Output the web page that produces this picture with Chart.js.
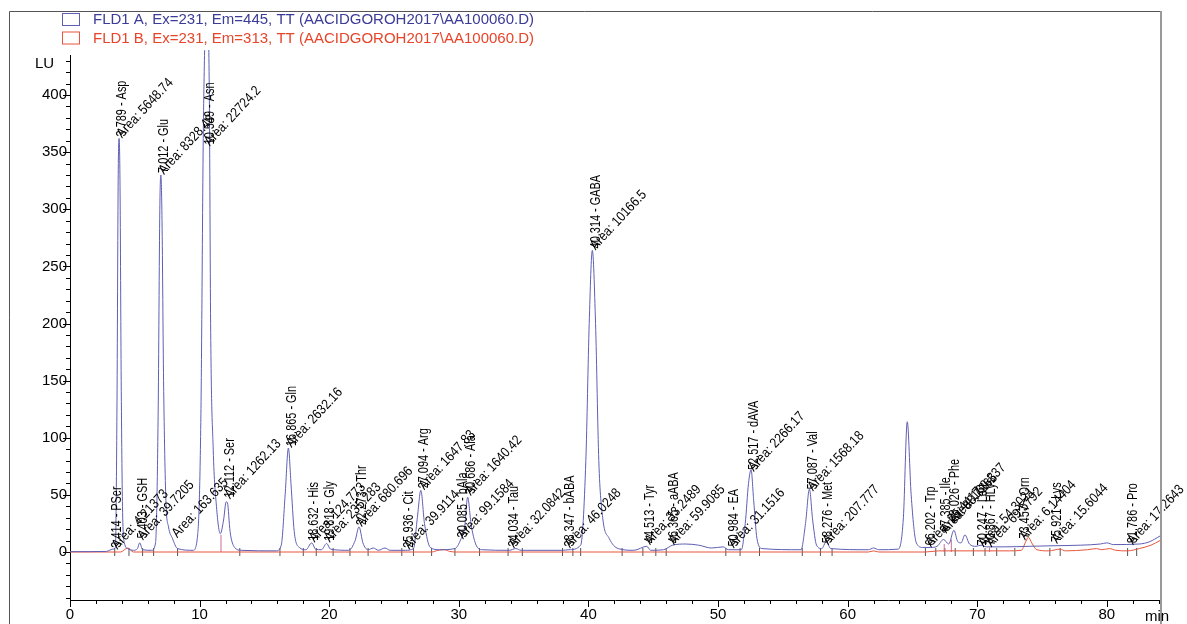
<!DOCTYPE html>
<html>
<head>
<meta charset="utf-8">
<title>FLD1 chromatogram</title>
<script src="https://cdn.jsdelivr.net/npm/chart.js@4.4.1/dist/chart.umd.min.js"></script>
<style>
  html, body { margin: 0; padding: 0; background: #fff; }
  #wrap { position: relative; width: 1187px; height: 624px; }
</style>
</head>
<body>
<div id="wrap"><canvas id="chromChart" width="1187" height="624"></canvas></div>
<script>
// legend texts
const seriesNames = [
  'FLD1 A, Ex=231, Em=445, TT (AACIDGOROH2017\\AA100060.D)',
  'FLD1 B, Ex=231, Em=313, TT (AACIDGOROH2017\\AA100060.D)'
];

// axis ticks
const xTickValues = [0, 10, 20, 30, 40, 50, 60, 70, 80];
const yTickValues = [0, 50, 100, 150, 200, 250, 300, 350, 400];

// signal A (min, LU)
const traceA = [
  [0, 0.3], [2.8, 0.5], [3.3, 2.5], [3.5, 4], [3.62, 120], [3.72, 330], [3.79, 362], [3.86, 320],
  [3.95, 150], [4.05, 40], [4.2, 8], [4.45, 3], [4.9, 1.5], [5.2, 3], [5.38, 8], [5.6, 2],
  [6.3, 1.5], [6.6, 8], [6.8, 120], [6.93, 300], [7.01, 330], [7.1, 290], [7.22, 150], [7.4, 45],
  [7.6, 22], [7.9, 12], [8.3, 3], [9.5, 1.5], [9.85, 15], [10.1, 120], [10.3, 380], [10.55, 480],
  [10.75, 400], [10.85, 200], [11.05, 90], [11.3, 40], [11.6, 16], [11.85, 28], [12.05, 44], [12.15, 43],
  [12.35, 18], [12.7, 4], [13.2, 1.5], [15.9, 1], [16.3, 6], [16.6, 50], [16.85, 91], [17.05, 60],
  [17.3, 18], [17.7, 4], [18.2, 2], [18.65, 8], [18.95, 2.5], [19.4, 2], [19.8, 7.5], [20.1, 2.5],
  [21.5, 1.5], [22.0, 10], [22.3, 22], [22.6, 8], [23.0, 2], [23.4, 3.5], [23.8, 1.5], [24.3, 3.5],
  [24.7, 1.5], [25.9, 1.5], [26.5, 3], [26.8, 30], [27.07, 54], [27.35, 25], [27.8, 4], [28.5, 2],
  [29.7, 3], [30.15, 11], [30.45, 22], [30.68, 48], [30.95, 24], [31.3, 7], [31.8, 2], [33.9, 1.5],
  [34.4, 3], [34.8, 1.5], [38.0, 1.5], [38.5, 2], [39.4, 6], [39.8, 80], [40.06, 200], [40.3, 264],
  [40.55, 200], [40.8, 80], [41.1, 30], [41.6, 12], [42.3, 3], [43.5, 1.5], [44.5, 5], [44.8, 1.5],
  [45.8, 2], [46.5, 6], [47.5, 7], [48.5, 6], [49.5, 3.5], [50.4, 4.5], [50.8, 2], [51.8, 2],
  [52.1, 25], [52.35, 60], [52.55, 72], [52.75, 45], [53.0, 12], [53.4, 3], [56.4, 2], [56.75, 25],
  [57.05, 55], [57.3, 28], [57.6, 6], [58.0, 3], [58.35, 9], [58.7, 3], [61.6, 2], [62.0, 3.5],
  [62.4, 2], [63.9, 2.5], [64.3, 30], [64.6, 114], [64.9, 50], [65.3, 8], [65.8, 4], [66.4, 4],
  [66.9, 5], [67.4, 11], [67.8, 7], [68.2, 19], [68.5, 9], [68.75, 8], [69.05, 15], [69.4, 7],
  [69.9, 5], [70.3, 6], [70.7, 4.5], [72, 4.5], [74, 5], [76, 5.5], [78, 6], [79.5, 7],
  [80.0, 8], [80.5, 6.5], [82.5, 7], [83.3, 9], [84.1, 14]
];

// signal B (min, LU)
const traceB = [
  [0, 0], [3.9, 0], [4.45, 3.5], [4.9, 0], [27.9, 0], [28.4, 1.5], [28.9, 2], [29.3, 0.5],
  [29.8, 0], [61.6, 0], [62.0, 1], [62.4, 0], [66.0, 0], [67.0, 1], [72.5, 1], [73.4, 1.5],
  [73.7, 8], [73.95, 13], [74.2, 8], [74.6, 2], [75.5, 1], [76.4, 2.5], [76.8, 1], [78.5, 2],
  [79.2, 3], [79.6, 2], [80.2, 3], [80.7, 1.5], [81.6, 1], [82.5, 3], [83.4, 6], [84.1, 10]
];

// integrated peaks: retention time, name, area, level of the label (LU)
const labelTimes = [3.414, 3.789, 5.403, 7.012, 8.05, 10.549, 12.112, 16.865, 18.632, 19.818, 22.273,
  25.936, 27.094, 30.085, 30.686, 34.034, 38.347, 40.314, 44.513, 46.365, 50.984, 52.517, 57.087,
  58.276, 66.202, 67.385, 68.026, 70.247, 70.867, 73.457, 75.921, 81.786];
const labelNames = ['PSer', 'Asp', 'GSH', 'Glu', '', 'Asn', 'Ser', 'Gln', 'His', 'Gly', 'Thr',
  'Cit', 'Arg', 'bAla', 'Ala', 'Tau', 'bABA', 'GABA', 'Tyr', 'aABA', 'EA', 'dAVA', 'Val',
  'Met', 'Trp', 'Ile', 'Phe', 'Leu', 'HLys', 'Orn', 'Lys', 'Pro'];
const labelAreas = ['4.21373', '5648.74', '39.7205', '8328.48', '163.635', '22724.2', '1262.13', '2632.16',
  '124.773', '235.283', '680.696', '39.9114', '1647.83', '99.1584', '1640.42', '32.0842', '46.0248',
  '10166.5', '33.2489', '59.9085', '31.1516', '2266.17', '1568.18', '207.777', '25.4417', '88.7265',
  '160.337', '54.3021', '69.5792', '6.14404', '15.6044', '17.2643'];
const labelLevels = [2, 362, 10, 330, 12, 355, 46, 91, 8, 8, 22, 2, 54, 11, 49, 3, 3, 264, 6, 6, 3,
  70, 53, 6, 4, 16, 25, 4, 4, 10, 7, 6];

// baseline start/end marks (min)
const baselineMarks = [3.45, 4.55, 5.6, 6.45, 8.3, 13.1, 16.2, 18.0, 19.0, 20.3, 21.6, 23.0, 25.6, 26.5,
  27.9, 29.7, 31.6, 33.8, 34.9, 38.0, 38.8, 39.4, 42.6, 44.2, 45.2, 46.0, 50.6, 51.7, 53.2, 56.5, 57.9,
  58.8, 66.0, 66.8, 67.5, 68.3, 69.7, 70.6, 71.5, 72.9, 75.6, 76.4, 81.6, 82.3];

// drop lines between unresolved peaks
const dropTimes = [11.65, 67.45, 68.0, 70.95];
const dropTops = [15, 7, 11, 4];

const blueColor = '#5e5eb4';
const redColor = '#e8553c';
const tickFont = { family: 'Arial, "Liberation Sans", sans-serif', size: 15 };

//build drop line points, null splits segments
const dropData = [];
dropTimes.forEach((t, i) => {
  dropData.push({ x: t, y: 0 }, { x: t, y: dropTops[i] }, { x: t, y: null });
});

//frame, tick marks, legend, axis titles
const decorations = {
  id: 'decorations',
  afterDraw(chart) {
    const { ctx, chartArea, scales: { x, y } } = chart;
    ctx.save();
    // outer frame
    ctx.strokeStyle = '#555';
    ctx.lineWidth = 1;
    ctx.beginPath();
    ctx.moveTo(9.5, 624);
    ctx.lineTo(9.5, 11.5);
    ctx.lineTo(chartArea.right, 11.5);
    ctx.stroke();
    ctx.strokeStyle = '#999';
    ctx.lineWidth = 2;
    ctx.beginPath();
    ctx.moveTo(chartArea.right + 1, 11);
    ctx.lineTo(chartArea.right + 1, 624);
    ctx.stroke();

    // tick marks
    ctx.strokeStyle = '#000';
    ctx.lineWidth = 1;
    ctx.beginPath();
    for (let v = -40; v <= 430; v += 10) {
      const py = Math.round(y.getPixelForValue(v)) + 0.5;
      const len = v % 50 === 0 ? 7 : 4;
      ctx.moveTo(chartArea.left, py);
      ctx.lineTo(chartArea.left - len, py);
    }
    for (let v = 0; v <= 84; v += 2) {
      const px = Math.round(x.getPixelForValue(v)) + 0.5;
      const len = v % 10 === 0 ? 7 : 4;
      ctx.moveTo(px, chartArea.bottom);
      ctx.lineTo(px, chartArea.bottom + len);
    }
    ctx.stroke();

    // axis titles
    ctx.fillStyle = '#000';
    ctx.font = '15px Arial, "Liberation Sans", sans-serif';
    ctx.textAlign = 'left';
    ctx.textBaseline = 'alphabetic';
    ctx.fillText('LU', 35, 68);
    ctx.fillText('min', 1145, 621);

    // legend
    const colors = [blueColor, redColor];
    const textColors = ['#3b3b98', '#e8442a'];
    seriesNames.forEach((name, i) => {
      const top = 13 + i * 18.5;
      ctx.strokeStyle = colors[i];
      ctx.strokeRect(62.5, top + 0.5, 17, 12);
      ctx.fillStyle = textColors[i];
      ctx.fillText(name, 93, top + 11);
    });
    ctx.restore();
  }
};

//peak labels: vertical retention time, slanted area (condensed text like the original)
const peakLabels = {
  id: 'peakLabels',
  afterDatasetsDraw(chart) {
    const { ctx, scales: { x, y } } = chart;
    ctx.save();
    ctx.fillStyle = '#000';
    ctx.font = '14px Arial, "Liberation Sans", sans-serif';
    ctx.textAlign = 'left';
    ctx.textBaseline = 'alphabetic';
    labelTimes.forEach((t, i) => {
      const px = x.getPixelForValue(t);
      const py = y.getPixelForValue(labelLevels[i]);
      if (labelNames[i]) {
        ctx.save();
        ctx.translate(px + 7, py - 2);
        ctx.rotate(-Math.PI / 2);
        ctx.scale(0.78, 1);
        ctx.fillText(t.toFixed(3) + ' - ' + labelNames[i], 0, 0);
        ctx.restore();
      }
      ctx.save();
      ctx.translate(px + 3, py);
      ctx.rotate(-47 * Math.PI / 180);
      ctx.scale(0.86, 1);
      ctx.fillText('Area: ' + labelAreas[i], 0, 0);
      ctx.restore();
    });
    ctx.restore();
  }
};

const ctx = document.getElementById('chromChart').getContext('2d');
const chromChart = new Chart(ctx, {
  type: 'line',
  data: {
    datasets: [
      { label: seriesNames[0], data: traceA.map(p => ({ x: p[0], y: p[1] })), borderColor: blueColor,
        borderWidth: 1, pointRadius: 0, cubicInterpolationMode: 'monotone', clip: { left: 0, right: 0, top: 5, bottom: 0 } },
      { label: seriesNames[1], data: traceB.map(p => ({ x: p[0], y: p[1] })), borderColor: redColor,
        borderWidth: 1, pointRadius: 0, cubicInterpolationMode: 'monotone' },
      { label: 'drop lines', data: dropData, borderColor: '#d06a9a', borderWidth: 1, pointRadius: 0, spanGaps: false },
      { label: 'baseline marks', data: baselineMarks.map(t => ({ x: t, y: 0 })), showLine: false,
        pointStyle: 'line', rotation: 90, pointRadius: 4, pointBorderColor: '#555', pointBorderWidth: 1 }
    ]
  },
  options: {
    responsive: false,
    animation: false,
    devicePixelRatio: 1,
    layout: { padding: { left: 10, right: 27, top: 55, bottom: 0 } },
    plugins: { legend: { display: false }, tooltip: { enabled: false } },
    scales: {
      x: {
        type: 'linear', min: 0, max: 84.1,
        border: { color: '#000', width: 1 },
        grid: { display: false, drawTicks: false },
        ticks: { font: tickFont, color: '#000', padding: 6, maxRotation: 0 },
        afterBuildTicks: s => { s.ticks = xTickValues.map(v => ({ value: v })); },
        afterFit: s => { s.height = 24; }
      },
      y: {
        type: 'linear', min: -42, max: 435,
        border: { color: '#000', width: 1 },
        grid: { display: false, drawTicks: false },
        ticks: { font: tickFont, color: '#000', padding: 3 },
        afterBuildTicks: s => { s.ticks = yTickValues.map(v => ({ value: v })); },
        afterFit: s => { s.width = 60; }
      }
    }
  },
  plugins: [peakLabels, decorations]
});
</script>
</body>
</html>
